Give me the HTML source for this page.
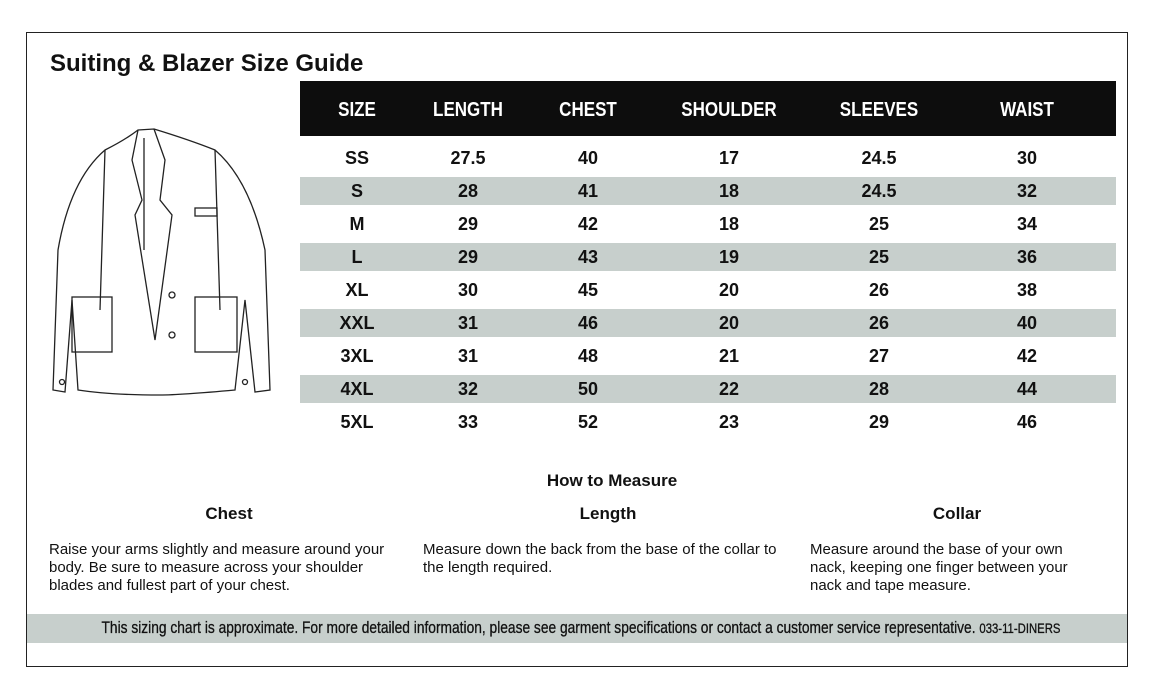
<!DOCTYPE html>
<html><head><meta charset="utf-8"><style>
body{margin:0;width:1156px;height:699px;background:#fff;position:relative;overflow:hidden;font-family:"Liberation Sans",sans-serif}
.a{position:absolute}
.box{left:26px;top:32px;width:1100px;height:633px;border:1px solid #222}
.t{left:50px;top:50px;font-size:24px;font-weight:bold;color:#111}
.hd{left:300px;top:81px;width:816px;height:55px;background:#0d0d0d}
.h{top:99px;color:#fff;font-size:20px;font-weight:bold;transform:translateX(-50%) scaleX(0.85);white-space:nowrap}
.g{left:300px;width:816px;height:28px;background:#c7cfcc}
.v{font-size:18px;font-weight:bold;color:#111;transform:translateX(-50%)}
.sub{font-size:17px;font-weight:bold;color:#111;transform:translateX(-50%)}
.p{font-size:15px;color:#111;line-height:18px}
.ft{left:27px;top:614px;width:1100px;height:29px;background:#c7cfcc}
.fx{left:581px;top:618px;font-size:17px;color:#111;transform:translateX(-50%) scaleX(0.81);white-space:nowrap;font-family:"Liberation Sans Narrow","Liberation Sans",sans-serif;-webkit-text-stroke:0.3px #111}
</style></head><body>
<div class="a box"></div>
<div class="a t">Suiting &amp; Blazer Size Guide</div>
<svg class="a" style="left:50px;top:120px" width="230" height="285" viewBox="0 0 230 285" fill="none" stroke="#222" stroke-width="1.3">
<path d="M88 10 L104 9 Q140 20 165 30 Q200 60 215 130 L220 270 L205 272 L195 180 L185 270 Q130 275 110 275 Q60 275 28 270 L22 180 L15 272 L3 270 L8 130 Q20 60 55 30 Q75 20 88 10Z"/>
<path d="M88 10 L82 40 L92 80 L85 95 L105 220 M104 9 L115 40 L110 80 L122 95 L105 220"/>
<path d="M94 18 L94 130 M55 30 L50 190 M165 30 L170 190"/>
<rect x="145" y="88" width="22" height="8"/>
<rect x="22" y="177" width="40" height="55"/><rect x="145" y="177" width="42" height="55"/>
<circle cx="122" cy="175" r="3"/><circle cx="122" cy="215" r="3"/>
<circle cx="195" cy="262" r="2.5"/><circle cx="12" cy="262" r="2.5"/>
</svg>
<div class="a hd"></div>
<div class="a h" style="left:357px">SIZE</div>
<div class="a h" style="left:468px">LENGTH</div>
<div class="a h" style="left:588px">CHEST</div>
<div class="a h" style="left:729px">SHOULDER</div>
<div class="a h" style="left:879px">SLEEVES</div>
<div class="a h" style="left:1027px">WAIST</div>
<div class="a g" style="top:177px"></div>
<div class="a g" style="top:243px"></div>
<div class="a g" style="top:309px"></div>
<div class="a g" style="top:375px"></div>
<div id="rows"></div>
<script>
var d=[["SS","27.5","40","17","24.5","30"],["S","28","41","18","24.5","32"],["M","29","42","18","25","34"],["L","29","43","19","25","36"],["XL","30","45","20","26","38"],["XXL","31","46","20","26","40"],["3XL","31","48","21","27","42"],["4XL","32","50","22","28","44"],["5XL","33","52","23","29","46"]];
var xs=[357,468,588,729,879,1027],h="";
d.forEach(function(r,i){r.forEach(function(c,j){h+='<div class="a v" style="left:'+xs[j]+'px;top:'+(148+i*33)+'px">'+c+'</div>';});});
document.getElementById("rows").innerHTML=h;
</script>
<div class="a sub" style="left:612px;top:471px">How to Measure</div>
<div class="a sub" style="left:229px;top:504px">Chest</div>
<div class="a sub" style="left:608px;top:504px">Length</div>
<div class="a sub" style="left:957px;top:504px">Collar</div>
<div class="a p" style="left:49px;top:541px;width:362px">Raise your arms slightly and measure around your body. Be sure to measure across your shoulder blades and fullest part of your chest.</div>
<div class="a p" style="left:423px;top:541px;width:370px">Measure down the back from the base of the collar to the length required.</div>
<div class="a p" style="left:810px;top:541px;width:280px">Measure around the base of your own nack, keeping one finger between your nack and tape measure.</div>
<div class="a ft"></div>
<div class="a fx">This sizing chart is approximate. For more detailed information, please see garment specifications or contact a customer service representative. <span style="font-size:14px">033-11-DINERS</span></div>
</body></html>
